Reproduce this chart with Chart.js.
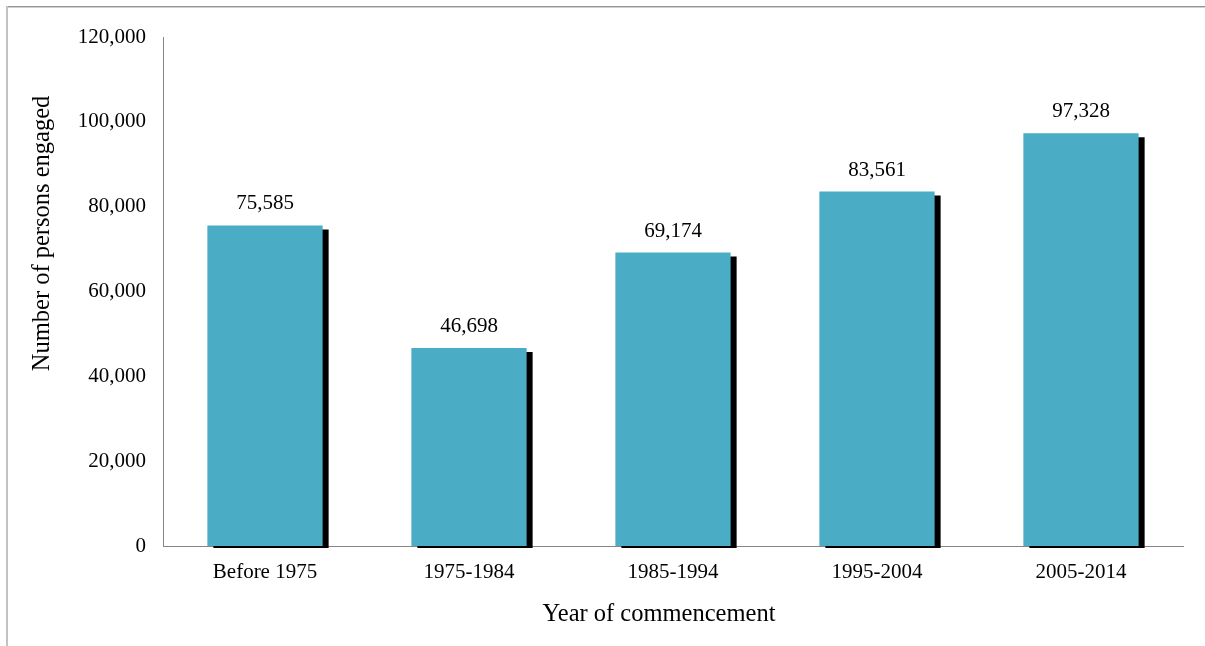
<!DOCTYPE html>
<html>
<head>
<meta charset="utf-8">
<title>Number of persons engaged by year of commencement</title>
<script src="https://cdn.jsdelivr.net/npm/chart.js@4"></script>
<style>
  html, body { margin: 0; padding: 0; background: #ffffff; }
  canvas { display: block; }
</style>
</head>
<body>
<canvas id="chart" width="1205" height="646"></canvas>
<script>
// Dados do gráfico
const categories = ["Before 1975", "1975-1984", "1985-1994", "1995-2004", "2005-2014"];
const persons = [75585, 46698, 69174, 83561, 97328];
const yTicks = [0, 20000, 40000, 60000, 80000, 100000, 120000];
const xTitle = "Year of commencement";
const yTitle = "Number of persons engaged";

const colors = {
  bar: "#4bacc6",
  shadow: "#000000",
  axis: "#868686",
  text: "#000000"
};

const serif = "'Liberation Serif', 'Times New Roman', serif";
const fmt = v => v.toLocaleString("en-US");

/**
 * Moldura cinza (topo e esquerda) como no original
 */
const framePlugin = {
  id: "frame",
  beforeDraw(chart) {
    const ctx = chart.ctx;
    ctx.save();
    ctx.fillStyle = "#959595";
    ctx.fillRect(6, 6, chart.width - 6, 1);
    ctx.fillStyle = "#d0d0d0";
    ctx.fillRect(6, 7, chart.width - 6, 1);
    ctx.fillStyle = "#c2c2c2";
    ctx.fillRect(6, 6, 2, chart.height - 6);
    ctx.restore();
  }
};

/**
 * Sombra preta deslocada atrás das barras
 */
const shadowPlugin = {
  id: "barShadow",
  beforeDatasetsDraw(chart) {
    const ctx = chart.ctx;
    ctx.save();
    ctx.shadowColor = colors.shadow;
    ctx.shadowBlur = 0;
    ctx.shadowOffsetX = 6;
    ctx.shadowOffsetY = 4;
  },
  afterDatasetsDraw(chart) {
    chart.ctx.restore();
  }
};

/**
 * Rótulos de valor acima das barras
 */
const valueLabels = {
  id: "valueLabels",
  afterDatasetsDraw(chart) {
    const ctx = chart.ctx;
    const meta = chart.getDatasetMeta(0);
    ctx.save();
    ctx.font = "21px " + serif;
    ctx.fillStyle = colors.text;
    ctx.textAlign = "center";
    ctx.textBaseline = "alphabetic";
    meta.data.forEach((bar, i) => {
      ctx.fillText(fmt(persons[i]), bar.x, bar.y - 16);
    });
    ctx.restore();
  }
};

/**
 * Títulos dos eixos (levemente fora do centro, como no Excel)
 */
const axisTitles = {
  id: "axisTitles",
  afterDraw(chart) {
    const ctx = chart.ctx;
    const area = chart.chartArea;
    ctx.save();
    ctx.font = "24.5px " + serif;
    ctx.fillStyle = colors.text;
    ctx.textAlign = "center";
    ctx.textBaseline = "middle";
    ctx.fillText(xTitle, (area.left + area.right) / 2 - 14, 615);
    ctx.translate(43, area.top + (area.bottom - area.top) * 0.386);
    ctx.rotate(-Math.PI / 2);
    ctx.fillText(yTitle, 0, 0);
    ctx.restore();
  }
};

const ctx = document.getElementById("chart").getContext("2d");

new Chart(ctx, {
  type: "bar",
  data: {
    labels: categories,
    datasets: [{
      label: yTitle,
      data: persons,
      backgroundColor: colors.bar,
      borderWidth: 0,
      categoryPercentage: 1,
      barPercentage: 0.565,
      clip: { left: 0, top: 0, right: 10, bottom: 2 }
    }]
  },
  options: {
    responsive: false,
    animation: false,
    devicePixelRatio: 1,
    layout: { padding: { left: 0, top: 37, right: 22, bottom: 0 } },
    plugins: {
      legend: { display: false },
      tooltip: { enabled: false }
    },
    scales: {
      x: {
        grid: { display: false, drawTicks: false },
        border: { display: true, color: colors.axis, width: 1 },
        ticks: {
          color: colors.text,
          font: { size: 21, family: serif },
          padding: 14,
          maxRotation: 0
        },
        afterFit: s => { s.height = 100; }
      },
      y: {
        min: 0,
        max: 120000,
        afterBuildTicks: s => { s.ticks = yTicks.map(v => ({ value: v })); },
        grid: { display: false, drawTicks: false },
        border: { display: true, color: colors.axis, width: 1 },
        ticks: {
          color: colors.text,
          font: { size: 21, family: serif },
          padding: 17,
          callback: v => fmt(v)
        },
        afterFit: s => { s.width = 163; }
      }
    }
  },
  plugins: [framePlugin, shadowPlugin, valueLabels, axisTitles]
});
</script>
</body>
</html>
